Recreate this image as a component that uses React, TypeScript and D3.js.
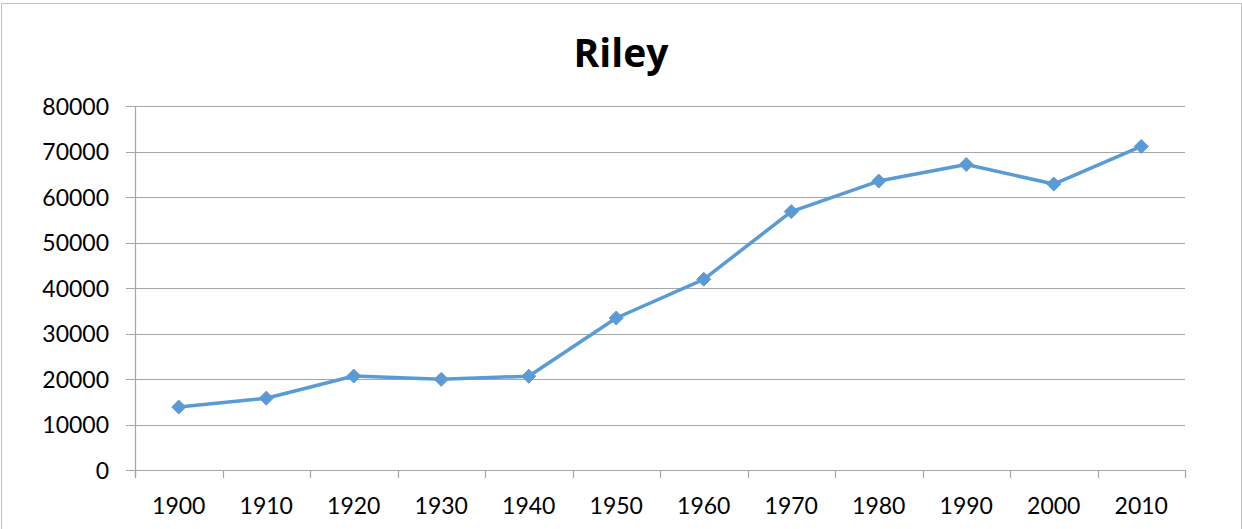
import React from "react";
import * as d3 from "d3";

const categories = ["1900", "1910", "1920", "1930", "1940", "1950", "1960", "1970", "1980", "1990", "2000", "2010"];
const population = [13828, 15783, 20650, 19919, 20617, 33405, 41914, 56788, 63505, 67139, 62843, 71115];
const yTicks = [0, 10000, 20000, 30000, 40000, 50000, 60000, 70000, 80000];
const title = "Riley";

const W = 1242;
const H = 529;
const plot = { left: 135, right: 1185, top: 106, bottom: 470 };
const FONT = "Lato, 'Open Sans', sans-serif";

export default function App() {
  const x = d3.scaleBand<string>().domain(categories).range([plot.left, plot.right]).padding(0);
  const y = d3.scaleLinear().domain([0, 80000]).range([plot.bottom, plot.top]);
  const cx = (c: string) => (x(c) as number) + x.bandwidth() / 2;
  const line = d3
    .line<number>()
    .x((_, i) => cx(categories[i]))
    .y((v) => y(v));
  const bounds = [...categories.map((c) => x(c) as number), plot.right];
  const grid = "#a6a6a6";
  const blue = "#5b9bd5";
  const dsz = 7;

  return (
    <svg
      width={W}
      height={H}
      style={{ position: "absolute", left: 0, top: 0, background: "#fff" }}
      fontFamily={FONT}
    >
      <rect x={1.5} y={3.5} width={1240} height={560} fill="#fff" stroke="#bfbfbf" strokeWidth={1} />
      <text x={621} y={67} textAnchor="middle" fontSize={39} fontWeight="bold" fontFamily="'Open Sans', sans-serif" fill="#000">
        {title}
      </text>
      {yTicks.map((t) => (
        <g key={t}>
          <line x1={plot.left - 9} x2={plot.right} y1={Math.round(y(t)) + 0.5} y2={Math.round(y(t)) + 0.5} stroke={grid} strokeWidth={1.2} />
          <text x={109} y={y(t) + 8.5} textAnchor="end" fontSize={23} fill="#000">
            {t}
          </text>
        </g>
      ))}
      <line x1={plot.left + 0.5} x2={plot.left + 0.5} y1={plot.top} y2={plot.bottom + 8} stroke={grid} strokeWidth={1.2} />
      {bounds.map((b, i) => (
        <line key={i} x1={Math.round(b) + 0.5} x2={Math.round(b) + 0.5} y1={plot.bottom} y2={plot.bottom + 8} stroke={grid} strokeWidth={1.2} />
      ))}
      {categories.map((c) => (
        <text key={"l" + c} x={cx(c)} y={514} textAnchor="middle" fontSize={23} fill="#000">
          {c}
        </text>
      ))}
      <path d={line(population) || ""} fill="none" stroke={blue} strokeWidth={3.5} strokeLinejoin="round" />
      {population.map((v, i) => {
        const px = cx(categories[i]);
        const py = y(v);
        return (
          <path
            key={i}
            d={`M${px},${py - dsz}L${px + dsz},${py}L${px},${py + dsz}L${px - dsz},${py}Z`}
            fill={blue}
            stroke={blue}
            strokeWidth={1}
          />
        );
      })}
    </svg>
  );
}
